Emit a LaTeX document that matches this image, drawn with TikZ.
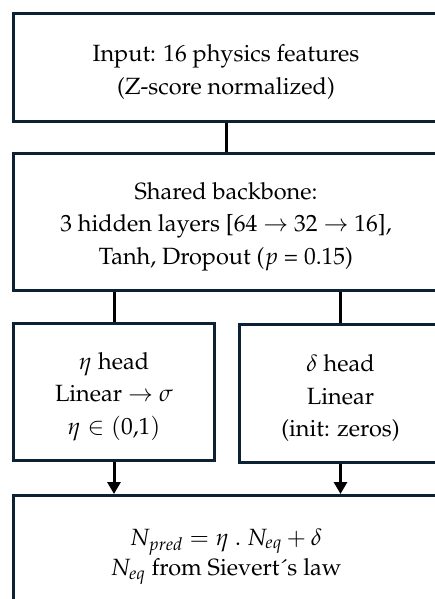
\documentclass[tikz,border=0pt]{standalone}
\usepackage[T1]{fontenc}
\usepackage{mathpazo}
\usetikzlibrary{arrows.meta}
\definecolor{boxline}{HTML}{0D2134}
\newcommand\firststrut{\rule{0pt}{26pt}}

\begin{document}
\begin{tikzpicture}[x=1pt,y=1pt,
  box/.style={draw=boxline,line width=3pt,align=center,inner sep=0pt,anchor=north west,
    font=\fontsize{23.5}{32.5}\selectfont},
  link/.style={line width=3pt},
  flow/.style={link,-{Triangle[length=12pt,width=13pt]}}]
  \useasboundingbox (0,0) rectangle (435,-599);
  \clip (0,0) rectangle (435,-599);

  \node[box,minimum width=425pt,minimum height=108pt] (input) at (12,-12)
    {\firststrut Input: 16 physics features\\(Z-score normalized)};
  \node[box,minimum width=425pt,minimum height=137pt] (backbone) at (12,-152)
    {\firststrut Shared backbone:\\3 hidden layers [64 $\to$ 32 $\to$ 16],\\Tanh, Dropout ($p$ = 0.15)};
  \node[box,minimum width=201pt,minimum height=137pt] (eta) at (12,-322)
    {\firststrut $\eta$ head\\Linear $\to$ $\sigma$\\$\eta\in(0{,}1)$};
  \node[box,minimum width=202pt,minimum height=138pt] (delta) at (238,-323)
    {\firststrut $\delta$ head\\Linear\\(init: zeros)};
  \node[box,minimum width=425pt,minimum height=122pt] (output) at (12,-494)
    {$N_{pred} = \eta\ .\ N_{eq} + \delta$\\[-2pt]$N_{eq}$ from Sievert\'{}s law};

  \draw[link] (input.south) -- (backbone.north);
  \draw[link] (eta.north |- backbone.south) -- (eta.north);
  \draw[link] (delta.north |- backbone.south) -- (delta.north);
  \draw[flow] (eta.south) -- (eta.south |- output.north);
  \draw[flow] (delta.south) -- (delta.south |- output.north);
\end{tikzpicture}
\end{document}
